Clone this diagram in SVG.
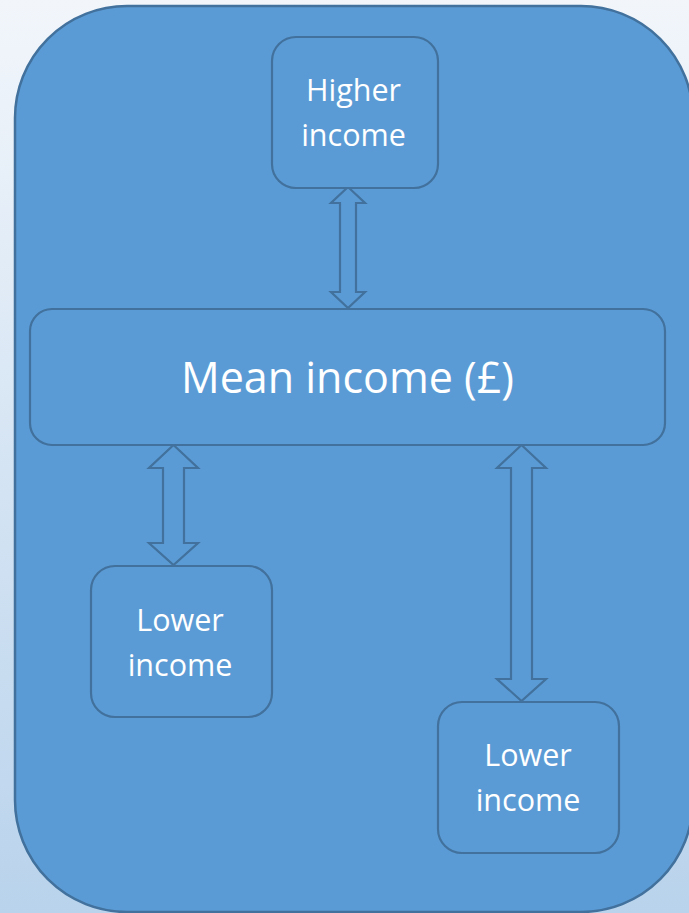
<svg xmlns="http://www.w3.org/2000/svg" width="689" height="913" viewBox="0 0 689 913">
  <defs>
    <linearGradient id="bg" x1="0" y1="0" x2="0" y2="1">
      <stop offset="0" stop-color="#f2f6fb"/>
      <stop offset="1" stop-color="#b9d3ec"/>
    </linearGradient>
    <style>
      .box{fill:#5b9bd5;stroke:#41719c;stroke-width:2.2}
      .arrow{fill:#5b9bd5;stroke:#41719c;stroke-width:2.2;stroke-linejoin:miter}
      .lbl{font-family:"Open Sans","Noto Sans",sans-serif;fill:#ffffff;text-anchor:middle}
      .s{font-size:30.5px}
      .l{font-size:43px}
    </style>
  </defs>
  <rect x="0" y="0" width="689" height="913" fill="url(#bg)"/>
  <rect id="frame" x="15" y="6" width="678" height="906" rx="112" ry="112" fill="#5b9bd5" stroke="#41719c" stroke-width="2.5"/>
  <g id="connectors">
    <polygon class="arrow" points="348,187 365,203 356,203 356,292 365,292 348,308 331,292 340,292 340,203 331,203"/>
    <polygon class="arrow" points="173.5,445 198,468 184,468 184,543 198,543 173.5,565 149,543 163,543 163,468 149,468"/>
    <polygon class="arrow" points="521.5,445 546,468 532,468 532,679 546,679 521.5,701 497,679 511,679 511,468 497,468"/>
  </g>
  <g id="higher">
    <rect class="box" x="272" y="37" width="166" height="151" rx="24"/>
    <text class="lbl s" x="353.5" y="101">Higher</text>
    <text class="lbl s" x="353.5" y="146">income</text>
  </g>
  <g id="mean">
    <rect class="box" x="30" y="309" width="635" height="136" rx="22"/>
    <text class="lbl l" x="347.5" y="393">Mean income (£)</text>
  </g>
  <g id="lower1">
    <rect class="box" x="91" y="566" width="181" height="151" rx="24"/>
    <text class="lbl s" x="180" y="631">Lower</text>
    <text class="lbl s" x="180" y="676">income</text>
  </g>
  <g id="lower2">
    <rect class="box" x="438" y="702" width="181" height="151" rx="24"/>
    <text class="lbl s" x="528" y="766">Lower</text>
    <text class="lbl s" x="528" y="811">income</text>
  </g>
</svg>
